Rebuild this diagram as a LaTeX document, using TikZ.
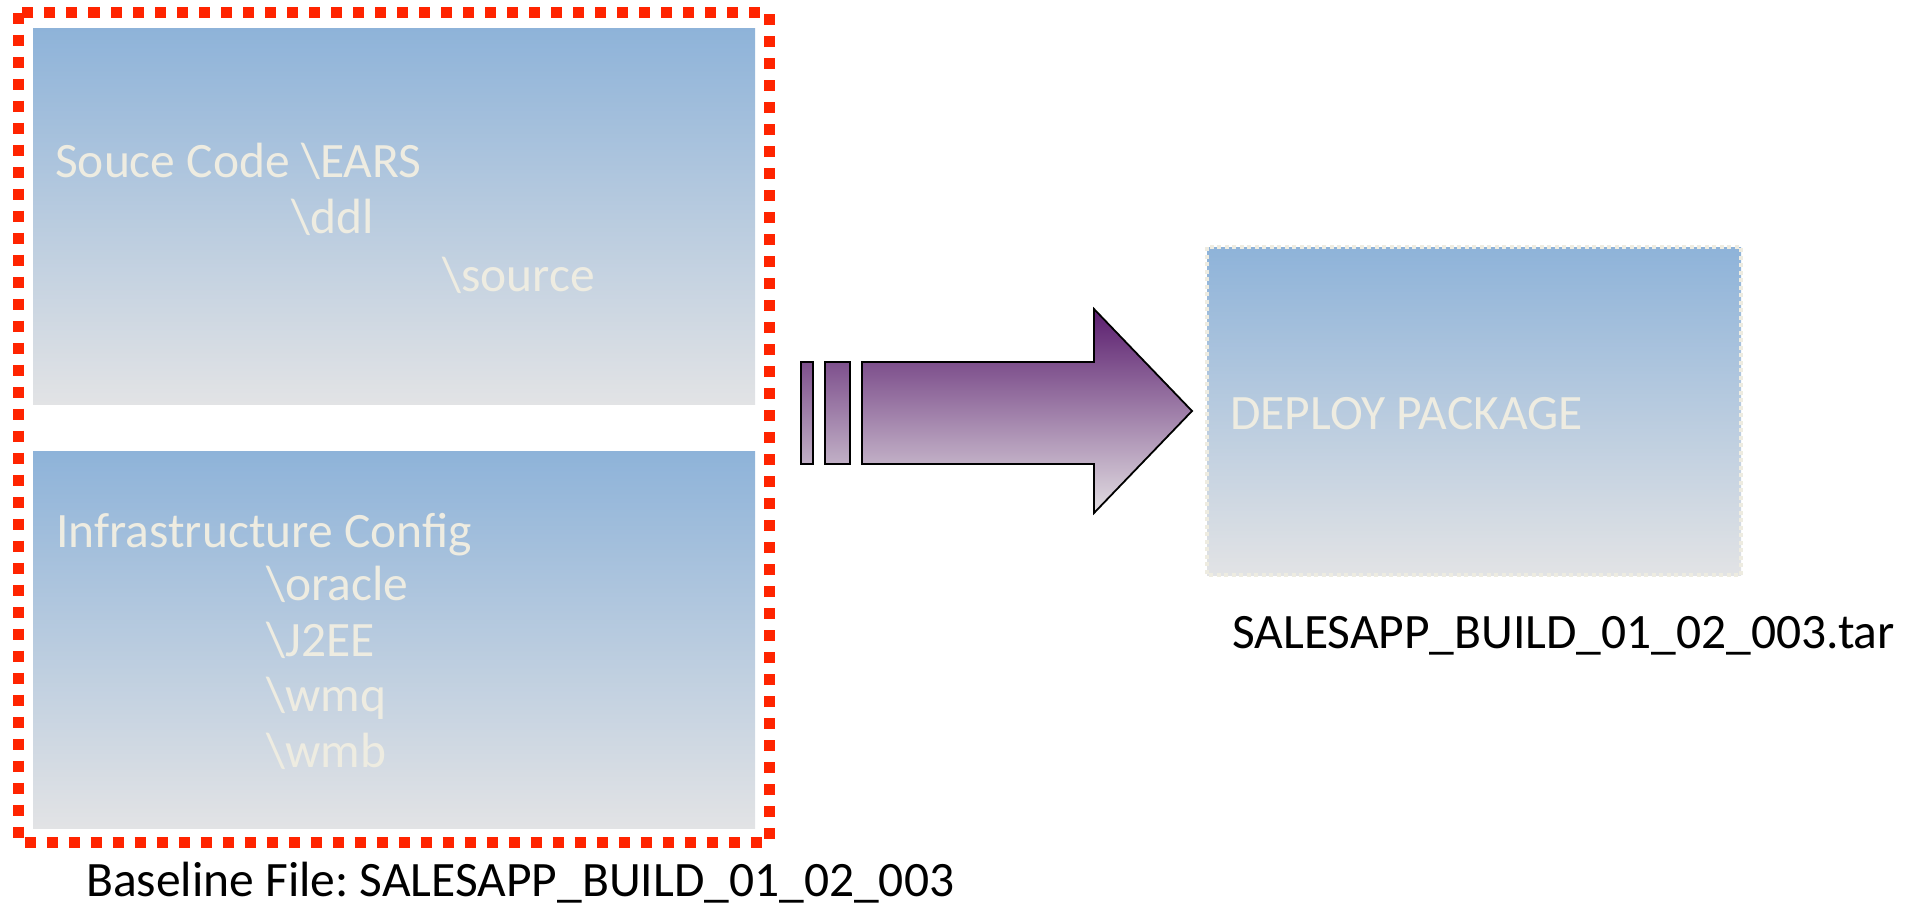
\documentclass[tikz,border=0pt]{standalone}
\usepackage{fontspec}
\setmainfont{Carlito}
\frenchspacing
\definecolor{boxtop}{RGB}{142,179,217}
\definecolor{boxbot}{RGB}{226,227,229}
\definecolor{creamtext}{RGB}{238,236,225}
\definecolor{baselinered}{RGB}{255,36,0}
\definecolor{arrowtop}{RGB}{90,29,110}
\definecolor{arrowbot}{RGB}{226,222,226}
\definecolor{barmidtop}{RGB}{126,80,141}
\definecolor{barmidbot}{RGB}{193,176,198}
\tikzset{
  gradbox/.style={top color=boxtop, bottom color=boxbot, draw=none},
  boxtext/.style={anchor=base west, inner sep=0pt, text=creamtext,
    font=\fontsize{49.5}{57}\selectfont},
  caption/.style={anchor=base west, inner sep=0pt, text=black,
    font=\fontsize{49.5}{57}\selectfont},
  arrowpart/.style={draw=black, line width=1.8pt, line join=miter},
}
\begin{document}
\begin{tikzpicture}[x=1pt,y=-1pt]
\useasboundingbox (0,0) rectangle (1921,908);

% baseline contents: two shaded panels
\path[gradbox] (33,28) rectangle (755,404);
\path[gradbox] (33,451) rectangle (755,828);

\node[boxtext] (src)    at (55,177)  {Souce Code \textbackslash EARS};
\node[boxtext] (ddl)    at (291,233) {\textbackslash ddl};
\node[boxtext] (source) at (442,291) {\textbackslash source};

\node[boxtext] (infra)  at (56,547)  {Infrastructure Config};
\node[boxtext] (oracle) at (266,600) {\textbackslash oracle};
\node[boxtext] (jee)    at (266,656) {\textbackslash J2EE};
\node[boxtext] (wmq)    at (266,711) {\textbackslash wmq};
\node[boxtext] (wmb)    at (266,767) {\textbackslash wmb};

% red dotted frame around the baseline
\draw[baselinered, line width=11pt, dash pattern=on 11pt off 11pt]
  (18.5,12.5) rectangle (769,842.5);

\node[caption] (basecap) at (86,896) {Baseline File: SALESAPP\_BUILD\_01\_02\_003};

% striped block arrow
\path[arrowpart, top color=barmidtop, bottom color=barmidbot]
  (801,362) rectangle (813,464);
\path[arrowpart, top color=barmidtop, bottom color=barmidbot]
  (825,362) rectangle (850,464);
\path[arrowpart, top color=arrowtop, bottom color=arrowbot]
  (862,362) -- (1094,362) -- (1094,309) -- (1192,411)
  -- (1094,513) -- (1094,464) -- (862,464) -- cycle;

% deploy package
\path[gradbox] (1207,247) rectangle (1741,575);
\draw[draw=creamtext, line width=4.5pt, dash pattern=on 4pt off 3.5pt]
  (1207,247) rectangle (1741,575);
\node[boxtext] (deploy) at (1230,429) {DEPLOY PACKAGE};

\node[caption] (tarcap) at (1232,648) {SALESAPP\_BUILD\_01\_02\_003.tar};
\end{tikzpicture}
\end{document}
